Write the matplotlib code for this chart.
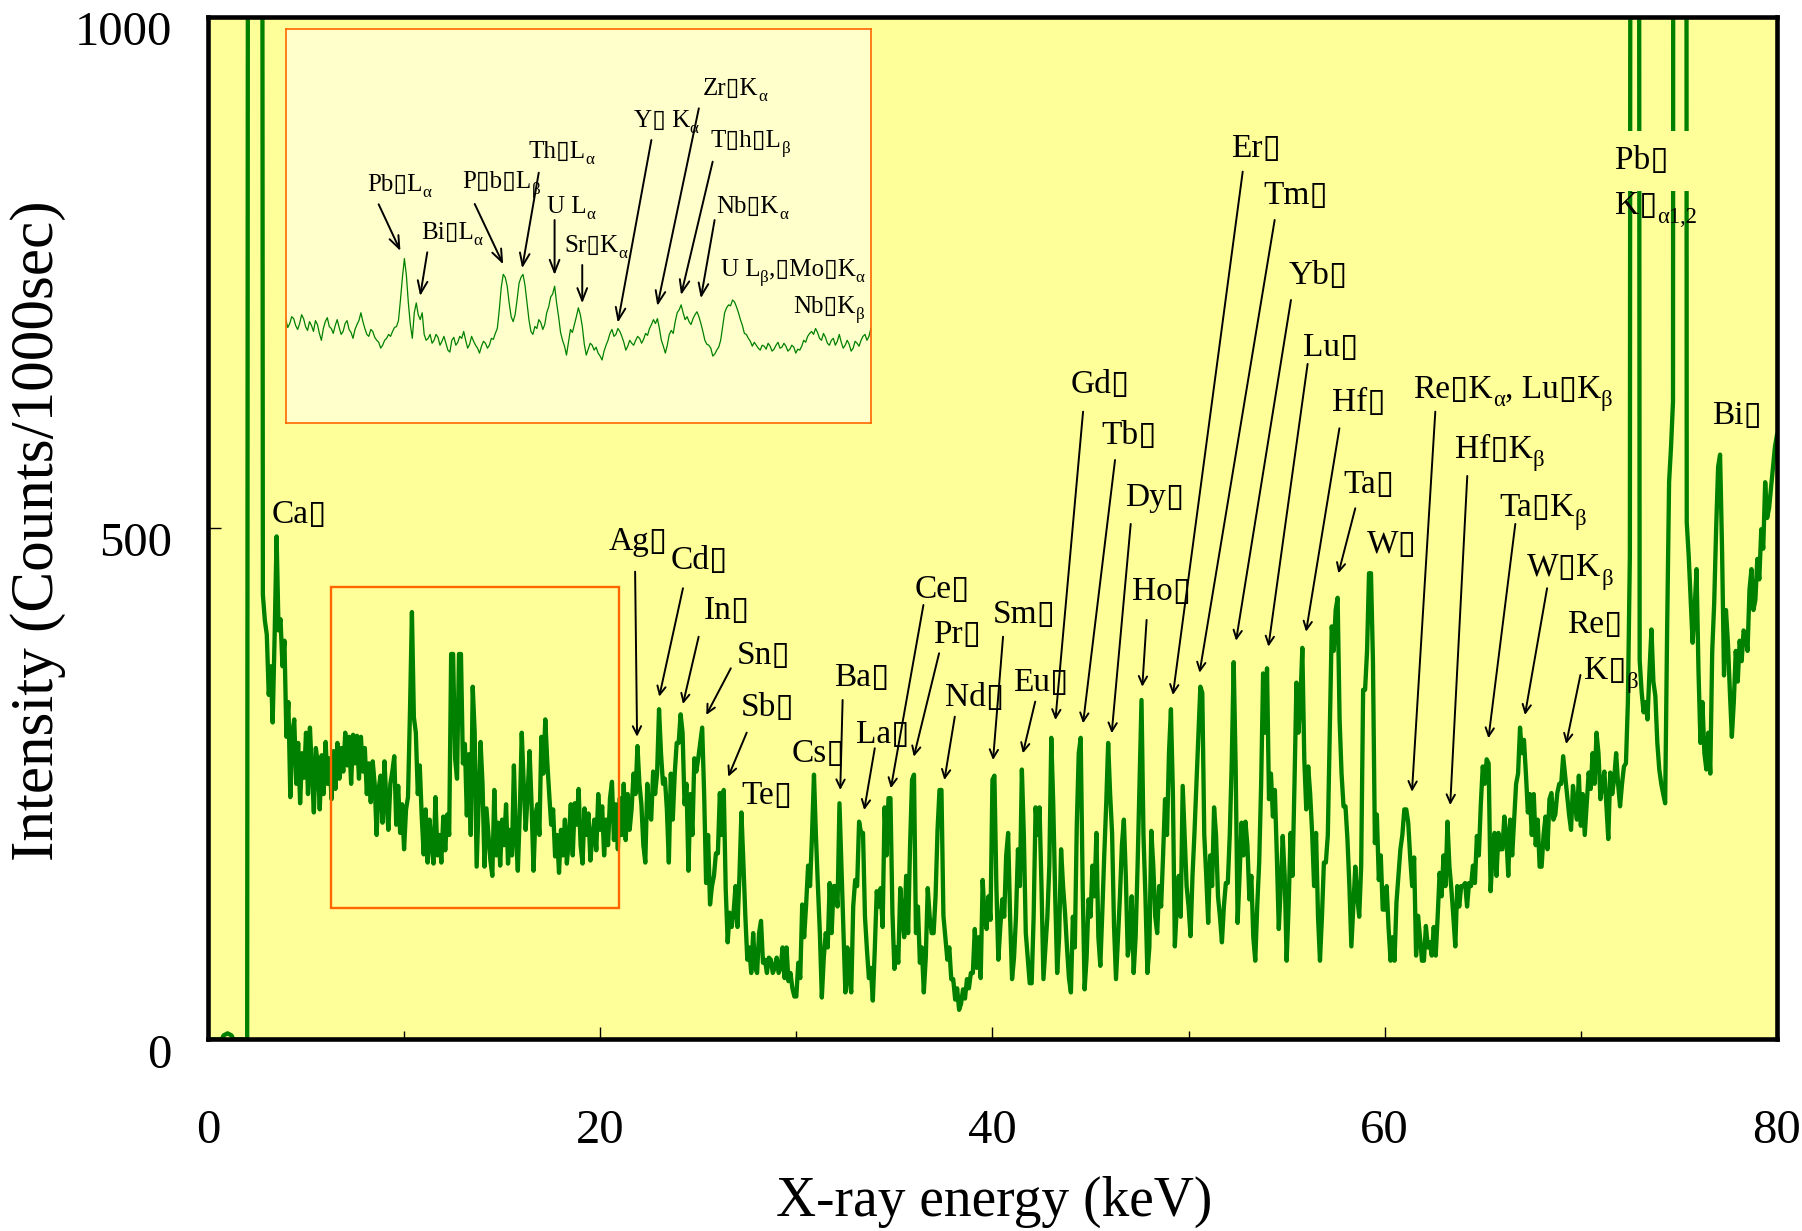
import numpy as np
import matplotlib
matplotlib.use("Agg")
import matplotlib.pyplot as plt
import matplotlib.transforms as mtransforms
from matplotlib.patches import Rectangle
from matplotlib.ticker import MultipleLocator

BOX = "\u25af"
FAMILY = ["Liberation Serif", "DejaVu Sans"]
plt.rcParams["font.family"] = FAMILY

GREEN = "#008000"
ORANGE = "#ff6600"
YELLOW = "#ffff99"
PALE = "#ffffcc"

# spectrum, 0.1 keV per channel, counts / 1000 s (Pb K lines run off the top)
E_STEP = 0.1
counts_00_10 = [0, 0, 0, 0, 0, 0, 0, 0, 4, 5,
                6, 5, 4, 0, 0, 0, 0, 0, 0, 0,
                0, 3000, 3000, 3000, 3000, 3000, 3000, 3000, 435, 410,
                396, 337, 365, 310, 395, 492, 400, 411, 365, 390,
                296, 330, 237, 300, 313, 250, 290, 231, 280, 256,
                300, 240, 305, 262, 222, 285, 270, 225, 278, 240,
                291, 250, 275, 235, 282, 245, 290, 255, 285, 262,
                300, 268, 296, 250, 298, 270, 297, 255, 296, 262,
                285, 240, 270, 232, 272, 250, 200, 245, 258, 212,
                272, 232, 205, 250, 262, 277, 210, 248, 202, 230]
counts_10_20 = [186, 225, 237, 320, 418, 315, 300, 240, 268, 218,
                181, 225, 173, 215, 190, 172, 237, 180, 200, 173,
                218, 185, 220, 200, 377, 377, 275, 255, 377, 377,
                270, 289, 219, 279, 200, 345, 300, 169, 230, 291,
                250, 169, 226, 200, 175, 160, 244, 180, 212, 170,
                215, 190, 230, 172, 205, 180, 268, 200, 165, 222,
                300, 250, 205, 240, 282, 230, 165, 220, 230, 200,
                296, 260, 313, 272, 240, 210, 225, 179, 200, 163,
                205, 180, 215, 172, 195, 230, 180, 231, 210, 245,
                190, 172, 226, 200, 221, 175, 198, 215, 185, 240]
counts_20_30 = [205, 228, 180, 215, 190, 236, 252, 195, 230, 186,
                236, 200, 250, 195, 240, 205, 225, 260, 240, 287,
                250, 230, 190, 173, 250, 220, 215, 262, 240, 260,
                323, 280, 250, 255, 225, 173, 260, 215, 260, 290,
                290, 318, 300, 230, 250, 165, 240, 200, 275, 262,
                275, 290, 305, 240, 153, 200, 132, 150, 160, 182,
                182, 241, 200, 244, 147, 95, 124, 110, 124, 150,
                110, 160, 222, 173, 121, 78, 90, 65, 104, 70,
                65, 104, 116, 75, 78, 65, 80, 78, 65, 70,
                80, 65, 70, 90, 60, 90, 57, 65, 50, 42]
counts_30_40 = [42, 75, 60, 132, 100, 132, 170, 150, 200, 259,
                199, 150, 104, 41, 80, 104, 90, 153, 104, 150,
                150, 130, 231, 170, 111, 46, 90, 60, 46, 130,
                156, 150, 213, 202, 202, 120, 88, 60, 70, 38,
                88, 145, 130, 148, 110, 227, 180, 236, 236, 124,
                69, 90, 75, 148, 120, 100, 160, 104, 190, 254,
                259, 104, 130, 75, 90, 46, 80, 148, 120, 104,
                104, 140, 205, 244, 244, 121, 100, 78, 90, 59,
                59, 39, 50, 29, 35, 49, 40, 59, 50, 65,
                65, 108, 70, 100, 60, 156, 120, 108, 140, 117]
counts_40_50 = [254, 258, 150, 78, 110, 137, 120, 180, 202, 120,
                59, 80, 120, 186, 150, 264, 200, 104, 80, 55,
                55, 120, 227, 200, 227, 150, 59, 90, 120, 170,
                295, 230, 140, 65, 100, 186, 150, 124, 90, 60,
                46, 120, 90, 210, 280, 295, 150, 49, 80, 137,
                120, 170, 140, 202, 100, 72, 124, 180, 230, 290,
                240, 202, 110, 59, 100, 140, 190, 215, 160, 82,
                95, 140, 65, 100, 170, 250, 332, 200, 140, 65,
                90, 204, 170, 120, 104, 150, 130, 180, 235, 200,
                280, 323, 241, 91, 130, 160, 120, 248, 200, 150]
counts_50_60 = [130, 101, 160, 202, 250, 300, 345, 339, 200, 160,
                114, 180, 150, 227, 200, 140, 120, 95, 130, 153,
                153, 200, 271, 369, 267, 114, 160, 212, 180, 213,
                190, 137, 160, 100, 77, 130, 173, 250, 358, 300,
                363, 235, 260, 218, 244, 180, 108, 150, 199, 160,
                77, 130, 202, 160, 250, 349, 300, 330, 383, 274,
                225, 267, 240, 202, 150, 202, 120, 77, 120, 173,
                173, 200, 300, 404, 380, 420, 432, 313, 260, 228,
                228, 196, 150, 91, 130, 169, 140, 120, 169, 342,
                342, 380, 456, 456, 371, 192, 220, 156, 180, 127]
counts_60_70 = [127, 150, 108, 77, 100, 77, 134, 160, 186, 200,
                225, 225, 212, 178, 150, 178, 82, 121, 100, 77,
                77, 111, 90, 95, 82, 110, 82, 120, 163, 140,
                180, 150, 213, 169, 147, 120, 91, 150, 130, 150,
                150, 153, 130, 153, 150, 170, 153, 199, 180, 230,
                267, 250, 274, 270, 145, 180, 202, 160, 202, 186,
                186, 218, 200, 160, 215, 180, 215, 250, 260, 305,
                280, 293, 260, 222, 240, 200, 240, 190, 215, 169,
                169, 200, 218, 186, 235, 241, 215, 220, 241, 250,
                250, 277, 258, 240, 220, 205, 248, 230, 215, 258]
counts_70_80 = [209, 240, 200, 230, 261, 245, 280, 250, 300, 280,
                235, 250, 262, 230, 196, 261, 240, 255, 280, 250,
                228, 250, 267, 270, 330, 473, 3000, 3000, 3000, 3000,
                371, 340, 320, 330, 313, 360, 401, 350, 336, 290,
                264, 250, 240, 231, 400, 545, 580, 624, 5000, 5000,
                5000, 5000, 5000, 5000, 506, 473, 430, 388, 420, 460,
                360, 290, 330, 280, 264, 300, 260, 380, 427, 500,
                560, 572, 480, 356, 420, 388, 340, 296, 330, 380,
                350, 390, 370, 400, 395, 380, 440, 460, 420, 430,
                470, 450, 499, 480, 545, 510, 520, 540, 560, 580,
                591]

counts = (counts_00_10 + counts_10_20 + counts_20_30 + counts_30_40
          + counts_40_50 + counts_50_60 + counts_60_70 + counts_70_80)
energy = E_STEP * np.arange(len(counts))

# magnified view of the 8-20 keV region (relative units)
inset_range = (8.13, 20.14)
inset_counts = [105, 97, 101, 108, 106, 99, 95, 101, 110, 106, 98, 94, 103, 99, 93, 104, 100, 91, 84, 96,
                103, 107, 98, 96, 91, 99, 105, 97, 90, 93, 101, 104, 95, 92, 86, 95, 100, 104, 112, 103,
                96, 90, 88, 95, 93, 87, 84, 82, 76, 79, 84, 86, 90, 88, 93, 97, 98, 104, 125, 148,
                167, 150, 122, 100, 86, 112, 122, 110, 105, 112, 90, 84, 86, 90, 81, 84, 90, 87, 79, 83,
                88, 81, 74, 72, 84, 87, 79, 82, 88, 86, 93, 84, 76, 80, 88, 83, 79, 76, 71, 78,
                83, 81, 76, 79, 86, 85, 91, 96, 115, 138, 151, 148, 139, 122, 108, 103, 110, 125, 142, 148,
                151, 140, 122, 105, 93, 90, 98, 96, 105, 102, 95, 100, 112, 118, 128, 131, 139, 122, 108, 92,
                84, 78, 69, 82, 95, 92, 100, 108, 117, 110, 98, 80, 69, 75, 81, 79, 74, 77, 71, 68,
                64, 73, 79, 84, 91, 95, 88, 90, 96, 93, 88, 82, 74, 78, 84, 81, 79, 84, 88, 86,
                81, 85, 91, 89, 96, 100, 105, 101, 106, 96, 84, 78, 71, 79, 90, 94, 91, 103, 112, 115,
                120, 112, 105, 108, 103, 100, 106, 110, 113, 108, 101, 93, 84, 80, 79, 76, 68, 70, 74, 77,
                84, 98, 112, 117, 120, 119, 125, 123, 118, 112, 105, 99, 91, 90, 86, 83, 78, 82, 79, 76,
                74, 79, 78, 75, 81, 78, 73, 75, 79, 82, 76, 77, 81, 78, 73, 75, 79, 77, 71, 75,
                74, 78, 84, 82, 88, 91, 93, 90, 96, 92, 86, 84, 91, 87, 81, 79, 84, 86, 79, 83,
                90, 82, 76, 79, 84, 80, 73, 76, 83, 81, 78, 84, 88, 90, 84, 88, 96]
inset_energy = np.linspace(inset_range[0], inset_range[1], len(inset_counts))

# (text parts, x, baseline y, arrow (x0, y0, x1, y1))
main_labels = [
    ([("Ca" + BOX, 0)], 3.26, 505, None),
    ([("Ag" + BOX, 0)], 20.42, 478.7, (21.78, 457.5, 21.88, 296.1)),
    ([("Cd" + BOX, 0)], 23.60, 459.9, (24.22, 441.3, 23.01, 335.3)),
    ([("In" + BOX, 0)], 25.26, 410.9, (25.02, 393.9, 24.22, 328.1)),
    ([("Sn" + BOX, 0)], 26.98, 366.9, (26.66, 363.0, 25.41, 317.4)),
    ([("Sb" + BOX, 0)], 27.17, 316.4, (27.47, 300.1, 26.53, 257.0)),
    ([("Te" + BOX, 0)], 27.21, 230.0, None),
    ([("Cs" + BOX, 0)], 29.75, 271.7, None),
    ([("Ba" + BOX, 0)], 31.93, 345.7, (32.36, 332.0, 32.24, 244.0)),
    ([("La" + BOX, 0)], 33.02, 289.7, (34.00, 284.8, 33.46, 224.4)),
    ([("Ce" + BOX, 0)], 36.03, 432.1, (36.48, 424.9, 34.82, 245.7)),
    ([("Pr" + BOX, 0)], 36.97, 388.1, (37.28, 377.7, 35.99, 276.6)),
    ([("Nd" + BOX, 0)], 37.59, 326.2, (38.08, 315.7, 37.55, 253.8)),
    ([("Sm" + BOX, 0)], 40.00, 407.0, (40.54, 393.9, 40.03, 273.3)),
    ([("Eu" + BOX, 0)], 41.03, 341.1, (42.18, 330.4, 41.55, 279.9)),
    ([("Gd" + BOX, 0)], 43.97, 632.6, (44.62, 614.0, 43.21, 312.5)),
    ([("Tb" + BOX, 0)], 45.55, 582.4, (46.25, 566.7, 44.62, 309.2)),
    ([("Dy" + BOX, 0)], 46.78, 521.8, (47.05, 504.2, 46.08, 299.5)),
    ([("Ho" + BOX, 0)], 47.12, 429.8, (47.86, 410.3, 47.64, 345.0)),
    ([("Er" + BOX, 0)], 52.19, 862.8, (52.76, 848.7, 49.20, 336.9)),
    ([("Tm" + BOX, 0)], 53.81, 817.1, (54.39, 801.5, 50.56, 358.7)),
    ([("Yb" + BOX, 0)], 55.11, 738.9, (55.22, 723.2, 52.42, 390.0)),
    ([("Lu" + BOX, 0)], 55.82, 668.5, (56.07, 660.7, 54.07, 384.2)),
    ([("Hf" + BOX, 0)], 57.32, 614.7, (57.69, 597.7, 55.99, 398.8)),
    ([("Ta" + BOX, 0)], 57.87, 534.8, (58.50, 519.5, 57.64, 455.9)),
    ([("W" + BOX, 0)], 59.07, 475.5, None),
    ([("Re" + BOX + "K", 0), ("\u03b1", 1), (", Lu" + BOX + "K", 0), ("\u03b2", 1)],
     61.45, 627.7, (62.58, 614.0, 61.39, 242.3)),
    ([("Hf" + BOX + "K", 0), ("\u03b2", 1)], 63.58, 569.0, (64.21, 551.1, 63.34, 229.3)),
    ([("Ta" + BOX + "K", 0), ("\u03b2", 1)], 65.84, 512.0, (66.66, 504.2, 65.29, 294.6)),
    ([("W" + BOX + "K", 0), ("\u03b2", 1)], 67.25, 453.3, (68.28, 441.3, 67.15, 317.4)),
    ([("Re" + BOX, 0)], 69.30, 397.9, None),
    ([("K" + BOX, 0), ("\u03b2", 1)], 70.17, 352.3, (69.98, 356.5, 69.25, 289.0)),
    ([("K" + BOX, 0), ("\u03b11,2", 1)], 71.72, 807.0, None),
    ([("Bi" + BOX, 0)], 76.68, 601.7, None),
]

inset_labels = [
    ([("Pb" + BOX + "L", 0), ("\u03b1", 1)], 9.793, 236.0, (10.036, 222.2, 10.483, 174.8)),
    ([("Bi" + BOX + "L", 0), ("\u03b1", 1)], 10.905, 186.6, (11.034, 173.4, 10.888, 129.0)),
    ([("P" + BOX + "b" + BOX + "L", 0), ("\u03b2", 1)], 11.756, 238.4, (12.008, 222.5, 12.592, 161.2)),
    ([("Th" + BOX + "L", 0), ("\u03b1", 1)], 13.119, 268.9, (13.322, 254.3, 12.981, 157.2)),
    ([("U L", 0), ("\u03b1", 1)], 13.484, 213.7, (13.647, 206.2, 13.647, 150.4)),
    ([("Sr" + BOX + "K", 0), ("\u03b1", 1)], 13.85, 174.1, (14.215, 160.5, 14.215, 121.6)),
    ([("Y" + BOX + " K", 0), ("\u03b1", 1)], 15.269, 300.4, (15.634, 287.5, 14.945, 101.9)),
    ([("Zr" + BOX + "K", 0), ("\u03b1", 1)], 16.689, 333.2, (16.608, 319.7, 15.756, 118.9)),
    ([("T" + BOX + "h" + BOX + "L", 0), ("\u03b2", 1)], 16.851, 280.1, (16.892, 265.5, 16.243, 130.0)),
    ([("Nb" + BOX + "K", 0), ("\u03b1", 1)], 16.973, 213.7, (16.932, 206.2, 16.649, 126.7)),
    ([("U L", 0), ("\u03b2", 1), ("," + BOX + "Mo" + BOX + "K", 0), ("\u03b1", 1)], 17.054, 149.4, None),
    ([("Nb" + BOX + "K", 0), ("\u03b2", 1)], 18.555, 111.5, None),
]


def rich_text(ax, x, y, parts, size):
    # chain pieces left to right; subscripts are smaller and dropped
    base = prev = None
    for s, sub in parts:
        if base is None:
            base = prev = ax.text(x, y, s, fontsize=size, ha="left", va="baseline")
            continue
        fs = size * 0.68 if sub else size
        dy = -size * 0.2 if sub else 0
        prev = ax.annotate(s, xy=(1, 0), xycoords=(prev, base), xytext=(0, dy),
                           textcoords="offset points", fontsize=fs, ha="left", va="bottom")
    return base


def arrow(ax, a, lw, hl, hw):
    x0, y0, x1, y1 = a
    ax.annotate("", xy=(x1, y1), xytext=(x0, y0),
                arrowprops=dict(arrowstyle="->,head_length=%g,head_width=%g" % (hl, hw),
                                lw=lw, color="black", shrinkA=0, shrinkB=0, mutation_scale=10))


fig = plt.figure(figsize=(18.02, 12.31), dpi=100)
ax = fig.add_axes([0.1154, 0.1556, 0.8707, 0.8306])
ax.set_facecolor(YELLOW)
ax.plot(energy, counts, color=GREEN, lw=3.1)
ax.set_xlim(0, 80)
ax.set_ylim(0, 1000)
ax.set_xticks([0, 20, 40, 60, 80])
ax.xaxis.set_minor_locator(MultipleLocator(10))
ax.set_yticks([0, 500, 1000])
ax.tick_params(axis="both", which="major", direction="in", length=9, width=1, labelsize=35)
ax.tick_params(axis="x", which="minor", direction="in", length=6, width=1)
ax.tick_params(axis="x", which="major", pad=50)
ax.tick_params(axis="y", which="major", pad=26)
shift = mtransforms.ScaledTranslation(0, -8 / 72, fig.dpi_scale_trans)
for lab in ax.get_yticklabels():
    lab.set_transform(lab.get_transform() + shift)
for sp in ax.spines.values():
    sp.set_linewidth(3.3)

ax.add_patch(Rectangle((6.26, 129), 14.71, 313.5, fill=False, ec=ORANGE, lw=1.7, zorder=3))

for parts, x, y, arr in main_labels:
    rich_text(ax, x, y, parts, 24)
    if arr:
        arrow(ax, arr, 1.4, 0.6, 0.3)

# Pb label sits on a patch of background that hides the Pb K lines
ax.text(71.72, 851.1, "Pb" + BOX + " ", fontsize=24, ha="left", va="baseline",
        bbox=dict(boxstyle="square,pad=0.45", fc=YELLOW, ec="none"))

fig.text(994 / 1802, 1 - 1202 / 1231, "X-ray energy (keV)", fontsize=40, ha="center", va="center")
fig.text(38 / 1802, 1 - 531 / 1231, "Intensity (Counts/1000sec)", fontsize=44,
         rotation=90, ha="center", va="center")

ins = fig.add_axes([0.1586, 0.6564, 0.3247, 0.3198])
ins.set_facecolor(PALE)
ins.plot(inset_energy, inset_counts, color=GREEN, lw=0.9)
ins.set_xlim(*inset_range)
ins.set_ylim(0, 400)
ins.set_xticks([])
ins.set_yticks([])
for sp in ins.spines.values():
    sp.set_edgecolor(ORANGE)
    sp.set_linewidth(1.2)
for parts, x, y, arr in inset_labels:
    rich_text(ins, x, y, parts, 18)
    if arr:
        arrow(ins, arr, 1.4, 0.9, 0.35)

fig.savefig("out.png", dpi=100)
